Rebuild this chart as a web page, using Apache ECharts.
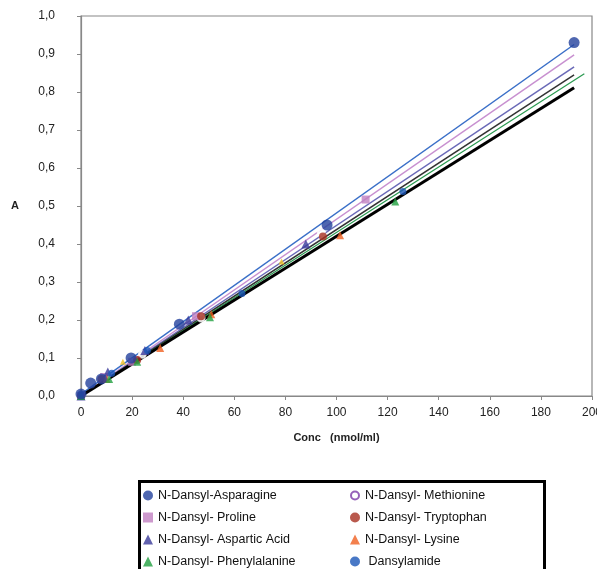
<!DOCTYPE html>
<html>
<head>
<meta charset="utf-8">
<script src="https://cdn.jsdelivr.net/npm/echarts@6/dist/echarts.min.js"></script>
<style>
  html, body { margin: 0; padding: 0; background: #fff; }
  #chart { width: 597px; height: 569px; }
</style>
</head>
<body>
<div id="chart"></div>
<script>
// measured points [conc, A]
var asparagine = [[0, 0.005], [3.8, 0.034], [8, 0.045], [19.6, 0.1], [38.5, 0.189], [96.3, 0.45], [193, 0.93]];
var methionine = [[0, 0], [10, 0.055], [24, 0.11], [47, 0.205], [94, 0.43]];
var proline = [[0, 0], [9, 0.05], [20, 0.09], [45, 0.21], [111.4, 0.517]];
var tryptophan = [[0, 0], [8, 0.045], [22, 0.095], [47, 0.21], [94.7, 0.42]];
var asparticAcid = [[0, 0], [10.5, 0.063], [25, 0.12], [42, 0.2], [88, 0.4]];
var lysine = [[0, -0.003], [10, 0.045], [31, 0.126], [51, 0.215], [101.4, 0.423]];
var phenylalanine = [[0, 0], [11, 0.045], [22, 0.09], [50.5, 0.207], [123, 0.512]];
var dansylamide = [[0, 0.005], [12, 0.06], [26, 0.12], [63, 0.27], [126, 0.538]];
var extraPts = [[9, 0.05], [16.4, 0.09], [78.5, 0.354]];

// trend lines (start, end)
var fitBlue = [[0, 0.005], [193, 0.925]];
var fitPink = [[0, 0], [193, 0.898]];
var fitPurple = [[0, 0], [193, 0.866]];
var fitGray = [[0, 0], [193, 0.845]];
var fitGreen = [[0, 0], [197, 0.848]];
var fitBlack = [[0, 0], [193, 0.811]];

var xTicks = [0, 200, 20];
var yTicks = [0, 1, 0.1];

var chart = echarts.init(document.getElementById('chart'));

function fit(name, data, color, width) {
    return {
        name: name, type: 'line', data: data, symbol: 'none', silent: true,
        lineStyle: {color: color, width: width}, z: 2
    };
}
function pts(name, data, symbol, size, color, extra) {
    var s = {
        name: name, type: 'scatter', data: data, symbol: symbol, symbolSize: size,
        itemStyle: {color: color}, z: 3
    };
    if (extra) s.itemStyle = extra;
    return s;
}

var legendText = {fontFamily: 'Liberation Sans', fontSize: 12.5, color: '#111'};
var methStyle = {color: '#fff', borderColor: '#7a3aa8', borderWidth: 2};
// ring icon for the hollow legend marker
var ringIcon = 'path://M0,-10A10,10 0 1,1 0,10A10,10 0 1,1 0,-10ZM0,-6A6,6 0 1,0 0,6A6,6 0 1,0 0,-6Z';

var option = {
    animation: false,
    textStyle: {fontFamily: 'Liberation Sans'},
    grid: {left: 81, right: 5, top: 16, bottom: 173, show: true, borderColor: '#888', borderWidth: 1.2,
        outerBoundsMode: 'none', containLabel: false},
    xAxis: {
        type: 'value', min: xTicks[0], max: xTicks[1], interval: xTicks[2],
        name: 'Conc   (nmol/ml)', nameLocation: 'middle', nameGap: 36,
        nameTextStyle: {fontWeight: 'bold', fontSize: 11, color: '#222'},
        axisLine: {lineStyle: {color: '#888', width: 1.2}},
        axisTick: {show: true, length: 4, lineStyle: {color: '#888'}},
        axisLabel: {color: '#222', fontSize: 12, margin: 11},
        splitLine: {show: false}
    },
    yAxis: {
        type: 'value', min: yTicks[0], max: yTicks[1], interval: yTicks[2],
        name: 'A', nameLocation: 'middle', nameGap: 62, nameRotate: 0,
        nameTextStyle: {fontWeight: 'bold', fontSize: 11, color: '#222'},
        axisLine: {show: true, lineStyle: {color: '#888', width: 1.2}},
        axisTick: {show: true, length: 4, lineStyle: {color: '#888'}},
        axisLabel: {color: '#222', fontSize: 12, margin: 26,
            formatter: function (v) { return v.toFixed(1).replace('.', ','); }},
        splitLine: {show: false}
    },
    legend: [
        {orient: 'vertical', left: 143, top: 489, height: 100, padding: 0, itemGap: 9, itemWidth: 10, itemHeight: 10,
            textStyle: legendText,
            data: ['N-Dansyl-Asparagine', 'N-Dansyl- Proline', 'N-Dansyl- Aspartic Acid', 'N-Dansyl- Phenylalanine']},
        {orient: 'vertical', left: 350, top: 489, height: 100, padding: 0, itemGap: 9, itemWidth: 10, itemHeight: 10,
            textStyle: legendText,
            data: [{name: 'N-Dansyl- Methionine', icon: ringIcon, itemStyle: {color: '#7a3aa8', borderWidth: 0}},
                'N-Dansyl- Tryptophan', 'N-Dansyl- Lysine', ' Dansylamide']}
    ],
    graphic: [{
        type: 'rect', left: 137, top: 479, silent: true,
        shape: {width: 405, height: 100},
        style: {fill: 'none', stroke: '#000', lineWidth: 3}
    }],
    series: [
        fit('fitBlue', fitBlue, '#3a6fc8', 1.5),
        fit('fitPink', fitPink, '#c890d0', 1.5),
        fit('fitPurple', fitPurple, '#6a6ab8', 1.5),
        fit('fitGray', fitGray, '#333333', 1.5),
        fit('fitGreen', fitGreen, '#2a9a50', 1.2),
        fit('fitBlack', fitBlack, '#000000', 3),
        pts('extra', extraPts, 'triangle', 6, '#f0c020'),
        pts('N-Dansyl- Methionine', methionine, 'emptyCircle', 7, null, methStyle),
        pts('N-Dansyl- Proline', proline, 'rect', 8, '#c080c0'),
        pts('N-Dansyl- Tryptophan', tryptophan, 'circle', 8, '#a83020'),
        pts('N-Dansyl- Aspartic Acid', asparticAcid, 'triangle', 9, '#3a3a9a'),
        pts('N-Dansyl- Lysine', lysine, 'triangle', 8, '#f06020'),
        pts('N-Dansyl- Phenylalanine', phenylalanine, 'triangle', 8, '#20a040'),
        pts(' Dansylamide', dansylamide, 'circle', 7, '#1a56b8'),
        pts('N-Dansyl-Asparagine', asparagine, 'circle', 11, '#23419c')
    ]
};
chart.setOption(option);
</script>
</body>
</html>
